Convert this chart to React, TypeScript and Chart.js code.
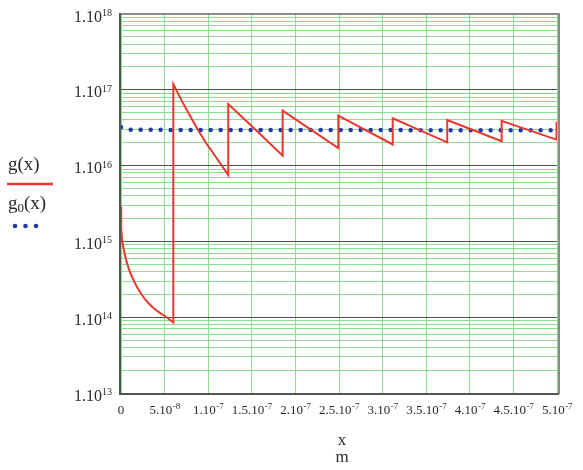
import React, { useEffect, useRef } from "react";
import { Chart, registerables } from "chart.js";

Chart.register(...registerables);

// g(x): sawtooth-like curve (x in metres)
const gX = [
  0, 0.02e-8, 0.115e-8, 0.3e-8, 0.49e-8, 0.75e-8, 1.07e-8, 1.45e-8, 1.83e-8, 2.3e-8, 2.79e-8, 3.35e-8, 3.93e-8, 4.5e-8, 5.08e-8, 6.0e-8,
  6.0e-8, 6.96e-8, 7.91e-8, 8.86e-8, 9.83e-8, 10.78e-8, 12.3e-8,
  12.3e-8, 15.4e-8, 18.54e-8,
  18.54e-8, 24.92e-8,
  24.92e-8, 31.16e-8,
  31.16e-8, 37.41e-8,
  37.41e-8, 43.65e-8,
  43.65e-8, 49.95e-8,
  49.95e-8,
];
const gY = [
  2.9e15, 1.5e15, 1.05e15, 8.0e14, 6.3e14, 4.9e14, 3.8e14, 3.05e14, 2.5e14, 2.05e14, 1.7e14, 1.45e14, 1.26e14, 1.13e14, 1.03e14, 8.5e13,
  1.19e17, 7.2e16, 4.55e16, 2.9e16, 1.93e16, 1.35e16, 7.5e15,
  6.5e16, 3.0e16, 1.35e16,
  5.3e16, 1.7e16,
  4.55e16, 1.9e16,
  4.2e16, 2.03e16,
  4.0e16, 2.1e16,
  3.9e16, 2.2e16,
  3.8e16,
];

// g0(x): nearly constant reference level
const g0X = [0, 1.0e-8, 1e-7, 2e-7, 3e-7, 4e-7, 5e-7];
const g0Y = [3.2e16, 2.97e16, 2.95e16, 2.95e16, 2.94e16, 2.93e16, 2.93e16];

// ticks
const xTickValues = [0, 5e-8, 1e-7, 1.5e-7, 2e-7, 2.5e-7, 3e-7, 3.5e-7, 4e-7, 4.5e-7, 5e-7];
const xTickMantissas = ["0", "5.10", "1.10", "1.5.10", "2.10", "2.5.10", "3.10", "3.5.10", "4.10", "4.5.10", "5.10"];
const xTickExponents = ["", "-8", "-7", "-7", "-7", "-7", "-7", "-7", "-7", "-7", "-7"];
const yTickExponents = [13, 14, 15, 16, 17, 18];
const yMinorMultipliers = [2, 3, 4, 5, 6, 7, 8, 9];

const GREEN = "#8edc8e";
const DARK = "#505050";
const RED = "#e8372f";
const BLUE = "#2438a8";
const TEXT = "#2a2a2a";
const SERIF = "'Liberation Serif', 'Times New Roman', serif";

function isMajor(v: number) {
  const e = Math.round(Math.log10(v));
  return Math.abs(v / Math.pow(10, e) - 1) < 1e-6;
}

const overlay = {
  id: "overlay",
  afterDatasetsDraw(chart: any) {
    const ctx = chart.ctx as CanvasRenderingContext2D;
    const { left, right, top, bottom } = chart.chartArea;
    ctx.save();
    ctx.lineWidth = 2;
    ctx.strokeStyle = "#8a8a8a";
    ctx.beginPath();
    ctx.moveTo(left - 1, top);
    ctx.lineTo(right + 2, top);
    ctx.lineTo(right + 2, bottom + 1);
    ctx.stroke();
    ctx.strokeStyle = "#555";
    ctx.beginPath();
    ctx.moveTo(left - 1, top - 1);
    ctx.lineTo(left - 1, bottom + 1);
    ctx.lineTo(right + 2, bottom + 1);
    ctx.stroke();
    ctx.restore();
  },
  afterDraw(chart: any) {
    const ctx = chart.ctx as CanvasRenderingContext2D;
    const xs = chart.scales.x;
    const ys = chart.scales.y;
    ctx.save();
    ctx.fillStyle = TEXT;
    ctx.textBaseline = "alphabetic";
    // y tick labels
    yTickExponents.forEach((e) => {
      const py = ys.getPixelForValue(Math.pow(10, e));
      ctx.font = `10px ${SERIF}`;
      const sup = String(e);
      const sw = ctx.measureText(sup).width;
      const rightEdge = 112;
      ctx.textAlign = "left";
      ctx.fillText(sup, rightEdge - sw, py + 2);
      ctx.font = `16px ${SERIF}`;
      ctx.textAlign = "right";
      ctx.fillText("1.10", rightEdge - sw, py + 7.5);
    });
    // x tick labels
    xTickValues.forEach((v, i) => {
      const px = xs.getPixelForValue(v);
      const m = xTickMantissas[i];
      const sup = xTickExponents[i];
      ctx.font = `13px ${SERIF}`;
      const mw = ctx.measureText(m).width;
      ctx.font = `9px ${SERIF}`;
      const sw = sup ? ctx.measureText(sup).width : 0;
      const start = px - (mw + sw) / 2;
      ctx.textAlign = "left";
      ctx.font = `13px ${SERIF}`;
      ctx.fillText(m, start, 414);
      if (sup) {
        ctx.font = `9px ${SERIF}`;
        ctx.fillText(sup, start + mw + 0.5, 408.5);
      }
    });
    // axis title
    ctx.font = `17px ${SERIF}`;
    ctx.textAlign = "center";
    const cx = (chart.chartArea.left + chart.chartArea.right) / 2 + 3;
    ctx.fillText("x", cx, 445);
    ctx.fillText("m", cx, 462);
    // legend
    ctx.textAlign = "left";
    ctx.font = `19px ${SERIF}`;
    ctx.fillText("g(x)", 8, 170);
    ctx.strokeStyle = RED;
    ctx.lineWidth = 2.5;
    ctx.beginPath();
    ctx.moveTo(7, 184);
    ctx.lineTo(53, 184);
    ctx.stroke();
    ctx.font = `19px ${SERIF}`;
    ctx.fillText("g", 8, 209);
    const gw = ctx.measureText("g").width;
    ctx.font = `13px ${SERIF}`;
    ctx.fillText("0", 8 + gw, 212);
    const zw = ctx.measureText("0").width;
    ctx.font = `19px ${SERIF}`;
    ctx.fillText("(x)", 8 + gw + zw, 209);
    ctx.fillStyle = BLUE;
    [15, 25.5, 36].forEach((dx) => {
      ctx.beginPath();
      ctx.arc(dx, 226, 2.3, 0, Math.PI * 2);
      ctx.fill();
    });
    ctx.restore();
  },
};

export default function App() {
  const ref = useRef<HTMLCanvasElement | null>(null);
  useEffect(() => {
    if (!ref.current) return;
    const yTickValues: number[] = [];
    yTickExponents.forEach((e, i) => {
      yTickValues.push(Math.pow(10, e));
      if (i < yTickExponents.length - 1) {
        yMinorMultipliers.forEach((m) => yTickValues.push(m * Math.pow(10, e)));
      }
    });
    const chart = new Chart(ref.current, {
      type: "line",
      data: {
        datasets: [
          {
            label: "g(x)",
            data: gX.map((x, i) => ({ x, y: gY[i] })),
            borderColor: RED,
            borderWidth: 2,
            pointRadius: 0,
            tension: 0,
            fill: false,
          },
          {
            label: "g0(x)",
            data: g0X.map((x, i) => ({ x, y: g0Y[i] })),
            borderColor: BLUE,
            borderWidth: 4.5,
            borderDash: [0, 10],
            borderCapStyle: "round",
            pointRadius: 0,
            tension: 0,
            fill: false,
          },
        ],
      },
      options: {
        responsive: false,
        animation: false,
        events: [],
        layout: { padding: { left: 121, right: 26, top: 14, bottom: 77 } },
        plugins: { legend: { display: false }, tooltip: { enabled: false } },
        scales: {
          x: {
            type: "linear",
            min: 0,
            max: 5e-7,
            afterBuildTicks: (s: any) => {
              s.ticks = xTickValues.map((v) => ({ value: v }));
            },
            ticks: { display: false },
            grid: { color: GREEN, lineWidth: 1, drawTicks: false },
            border: { display: false },
          },
          y: {
            type: "logarithmic",
            min: 1e13,
            max: 1e18,
            afterBuildTicks: (s: any) => {
              s.ticks = yTickValues.map((v) => ({ value: v }));
            },
            ticks: { display: false },
            grid: {
              color: (c: any) => (c.tick && isMajor(c.tick.value) ? DARK : GREEN),
              lineWidth: 1,
              drawTicks: false,
            },
            border: { display: false },
          },
        },
      },
      plugins: [overlay],
    } as any);
    return () => chart.destroy();
  }, []);
  return (
    <div style={{ position: "absolute", left: 0, top: 0, width: 583, height: 470, background: "#fff" }}>
      <canvas ref={ref} width={583} height={470} style={{ display: "block" }} />
    </div>
  );
}
